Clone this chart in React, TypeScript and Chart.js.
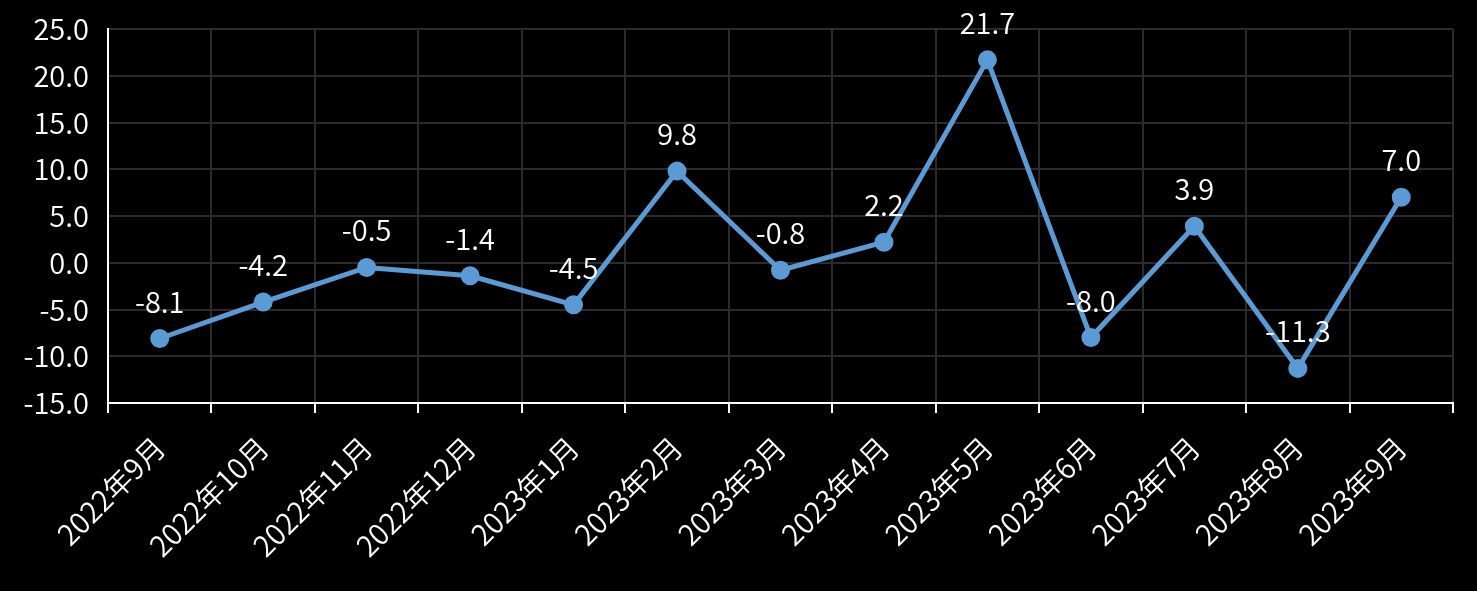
import React, { useEffect, useRef } from "react";
import { Chart, registerables } from "chart.js";

Chart.register(...registerables);

const categories = [
  "2022年9月", "2022年10月", "2022年11月", "2022年12月", "2023年1月", "2023年2月",
  "2023年3月", "2023年4月", "2023年5月", "2023年6月", "2023年7月", "2023年8月", "2023年9月",
];
const values = [-8.1, -4.2, -0.5, -1.4, -4.5, 9.8, -0.8, 2.2, 21.7, -8.0, 3.9, -11.3, 7.0];
const yMin = -15;
const yMax = 25;
const yStep = 5;

const FONT = '"Noto Sans CJK SC", "Noto Sans", sans-serif';
const FONT_SIZE = 29;
const FONT_WEIGHT = "350";

const labelPlugin = {
  id: "valueLabels",
  afterDatasetsDraw(chart: any) {
    const ctx = chart.ctx;
    const meta = chart.getDatasetMeta(0);
    ctx.save();
    ctx.font = `${FONT_WEIGHT} ${FONT_SIZE}px ${FONT}`;
    ctx.fillStyle = "#ffffff";
    ctx.textAlign = "center";
    ctx.textBaseline = "middle";
    meta.data.forEach((pt: any, i: number) => {
      ctx.fillText(values[i].toFixed(1), pt.x, pt.y - 37);
    });
    ctx.restore();
  },
};

export default function App() {
  const ref = useRef<HTMLCanvasElement>(null);
  useEffect(() => {
    document.body.style.margin = "0";
    document.body.style.background = "#000";
    const chart = new Chart(ref.current!, {
      type: "line",
      data: {
        labels: categories,
        datasets: [
          {
            data: values,
            borderColor: "#5B9BD5",
            backgroundColor: "#5B9BD5",
            borderWidth: 5,
            pointRadius: 7,
            pointBackgroundColor: "#5B9BD5",
            pointBorderColor: "#5B9BD5",
            tension: 0,
          },
        ],
      },
      options: {
        animation: false,
        responsive: false,
        maintainAspectRatio: false,
        layout: { padding: { top: 29, right: 24, left: 0, bottom: 0 } },
        plugins: { legend: { display: false }, tooltip: { enabled: false } },
        scales: {
          x: {
            offset: true,
            grid: {
              offset: true,
              color: (c: any) => (c.index === categories.length ? "rgba(0,0,0,0)" : "#2b2b2b"),
              tickColor: "#ffffff",
              tickLength: 10,
              lineWidth: 2,
            },
            border: { color: "#ffffff", width: 2 },
            ticks: {
              color: "#ffffff",
              font: { family: FONT, size: FONT_SIZE, weight: FONT_WEIGHT },
              maxRotation: 45,
              minRotation: 45,
              autoSkip: false,
              padding: 17,
            },
            afterFit(scale: any) {
              scale.height = 188;
              scale.paddingLeft = 0;
              scale.paddingRight = 0;
            },
          },
          y: {
            min: yMin,
            max: yMax,
            grid: { color: "#2b2b2b", lineWidth: 2, drawTicks: false },
            border: { color: "#ffffff", width: 2 },
            ticks: {
              stepSize: yStep,
              color: "#ffffff",
              font: { family: FONT, size: FONT_SIZE, weight: FONT_WEIGHT },
              padding: 19,
              callback: (v: any) => Number(v).toFixed(1),
            },
            afterFit(scale: any) {
              scale.width = 108;
              scale.paddingTop = 0;
              scale.paddingBottom = 0;
            },
          },
        },
      },
      plugins: [labelPlugin],
    });
    return () => chart.destroy();
  }, []);
  return (
    <div style={{ width: 1477, height: 591, background: "#000" }}>
      <canvas ref={ref} width={1477} height={591} style={{ display: "block" }} />
    </div>
  );
}
